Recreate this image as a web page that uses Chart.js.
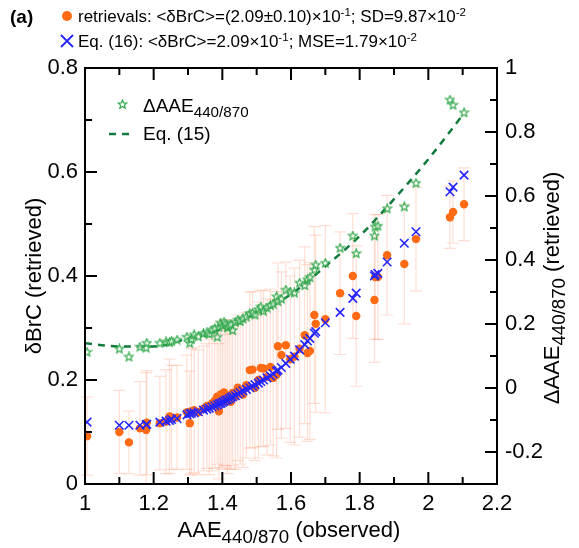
<!DOCTYPE html>
<html>
<head>
<meta charset="utf-8">
<script src="https://cdn.jsdelivr.net/npm/chart.js@4.4.1/dist/chart.umd.min.js"></script>
<style>
  html, body { margin: 0; padding: 0; background: #fff; }
</style>
</head>
<body>
<canvas id="chart" width="579" height="548"></canvas>
<script>
// --- DATA ---
const aaeObserved = [1.006, 1.100, 1.128, 1.160, 1.178, 1.180, 1.218, 1.236, 1.246, 1.252,
  1.268, 1.297, 1.305, 1.310, 1.318, 1.330, 1.345, 1.355, 1.362, 1.370,
  1.378, 1.385, 1.390, 1.395, 1.400, 1.405, 1.410, 1.415, 1.420, 1.425,
  1.430, 1.438, 1.445, 1.452, 1.460, 1.470, 1.480, 1.488, 1.495, 1.505,
  1.512, 1.520, 1.530, 1.540, 1.548, 1.558, 1.562, 1.572, 1.585, 1.598,
  1.610, 1.625, 1.640, 1.648, 1.655, 1.668, 1.672, 1.700, 1.743, 1.780,
  1.790, 1.843, 1.845, 1.853, 1.880, 1.930, 1.964, 2.063, 2.072, 2.104];

const brcRetrieved = [0.092, 0.100, 0.080, 0.107, 0.104, 0.118, 0.117, 0.120, 0.130, 0.128,
  0.128, 0.138, 0.117, 0.140, 0.142, 0.138, 0.145, 0.150, 0.148, 0.155,
  0.160, 0.168, 0.140, 0.172, 0.158, 0.176, 0.165, 0.160, 0.170, 0.158,
  0.175, 0.168, 0.185, 0.178, 0.172, 0.190, 0.219, 0.220, 0.185, 0.200,
  0.223, 0.222, 0.206, 0.225, 0.204, 0.210, 0.265, 0.248, 0.267, 0.240,
  0.245, 0.260, 0.286, 0.252, 0.256, 0.325, 0.308, 0.317, 0.367, 0.400,
  0.323, 0.354, 0.398, 0.398, 0.440, 0.423, 0.471, 0.513, 0.523, 0.538];

const brcErr = [0.075, 0.080, 0.060, 0.090, 0.110, 0.100, 0.090, 0.100, 0.110, 0.100,
  0.100, 0.110, 0.100, 0.120, 0.120, 0.120, 0.120, 0.120, 0.130, 0.130,
  0.130, 0.130, 0.130, 0.140, 0.130, 0.140, 0.130, 0.140, 0.140, 0.130,
  0.140, 0.140, 0.140, 0.140, 0.140, 0.140, 0.150, 0.150, 0.140, 0.150,
  0.150, 0.150, 0.150, 0.150, 0.150, 0.160, 0.160, 0.160, 0.160, 0.160,
  0.170, 0.170, 0.170, 0.170, 0.170, 0.170, 0.170, 0.180, 0.118, 0.120,
  0.135, 0.120, 0.120, 0.120, 0.115, 0.115, 0.100, 0.060, 0.060, 0.070];

const brcEq16 = [0.119, 0.113, 0.113, 0.113, 0.114, 0.115, 0.119, 0.121, 0.122, 0.124,
  0.126, 0.133, 0.135, 0.136, 0.137, 0.139, 0.142, 0.144, 0.146, 0.148,
  0.150, 0.152, 0.154, 0.155, 0.157, 0.159, 0.161, 0.162, 0.164, 0.166,
  0.168, 0.170, 0.173, 0.176, 0.179, 0.182, 0.185, 0.188, 0.191, 0.194,
  0.197, 0.200, 0.204, 0.208, 0.212, 0.217, 0.219, 0.224, 0.232, 0.240,
  0.246, 0.258, 0.268, 0.275, 0.280, 0.290, 0.293, 0.310, 0.330, 0.357,
  0.367, 0.400, 0.403, 0.405, 0.427, 0.463, 0.485, 0.562, 0.571, 0.594];

const deltaAAE = [0.112, 0.122, 0.097, 0.128, 0.125, 0.140, 0.140, 0.144, 0.142, 0.146,
  0.150, 0.159, 0.140, 0.152, 0.166, 0.160, 0.170, 0.172, 0.168, 0.181,
  0.185, 0.159, 0.190, 0.203, 0.195, 0.206, 0.200, 0.188, 0.192, 0.198,
  0.180, 0.205, 0.212, 0.208, 0.216, 0.222, 0.232, 0.234, 0.228, 0.245,
  0.253, 0.240, 0.250, 0.258, 0.262, 0.285, 0.270, 0.278, 0.306, 0.300,
  0.297, 0.328, 0.320, 0.338, 0.345, 0.369, 0.384, 0.390, 0.437, 0.475,
  0.420, 0.475, 0.503, 0.506, 0.560, 0.566, 0.640, 0.900, 0.884, 0.860];

const eq15X = [1.0, 1.1, 1.2, 1.3, 1.4, 1.5, 1.6, 1.7, 1.8, 1.9, 2.0, 2.1];
const eq15Y = [0.140, 0.130, 0.130, 0.155, 0.185, 0.233, 0.293, 0.380, 0.475, 0.590, 0.715, 0.853];

const xTicks = [1, 1.2, 1.4, 1.6, 1.8, 2, 2.2];
const yLeftTicks = [0, 0.2, 0.4, 0.6, 0.8];
const yRightTicks = [-0.2, 0, 0.2, 0.4, 0.6, 0.8, 1];

const legendRetrievals = [['retrievals: <δBrC>=(2.09±0.10)×10', ''], ['-1', 'sup'], ['; SD=9.87×10', ''], ['-2', 'sup']];
const legendEq16 = [['Eq. (16): <δBrC>=2.09×10', ''], ['-1', 'sup'], ['; MSE=1.79×10', ''], ['-2', 'sup']];

// --- COLOURS ---
const ORANGE = '#ff6a13';
const BLUE = '#2424ff';
const STAR_GREEN = '#2fa84a';
const LINE_GREEN = '#127a3c';
const FONT = '"Liberation Sans", Arial, sans-serif';

// open 5-point star used as the point style
function makeStar(size, color) {
  const c = document.createElement('canvas');
  c.width = size; c.height = size;
  const g = c.getContext('2d');
  const cx = size / 2, cy = size / 2, ro = size / 2 - 1, ri = ro * 0.45;
  g.beginPath();
  for (let i = 0; i < 10; i++) {
    const r = i % 2 === 0 ? ro : ri;
    const a = -Math.PI / 2 + i * Math.PI / 5;
    const px = cx + r * Math.cos(a), py = cy + r * Math.sin(a);
    if (i === 0) g.moveTo(px, py); else g.lineTo(px, py);
  }
  g.closePath();
  g.fillStyle = 'rgba(255,255,255,0.6)';
  g.fill();
  g.strokeStyle = color;
  g.lineWidth = 1.2;
  g.stroke();
  return c;
}
const starImg = makeStar(11, STAR_GREEN);

// text with sub/superscript runs: [text, ''|'sub'|'sup']
function drawRich(ctx, x, y, parts, size, align, small) {
  const k = small || 0.68;
  const fontFor = m => (m ? size * k : size) + 'px ' + FONT;
  let w = 0;
  parts.forEach(([t, m]) => { ctx.font = fontFor(m); w += ctx.measureText(t).width; });
  let cx = align === 'center' ? x - w / 2 : x;
  ctx.textAlign = 'left';
  ctx.textBaseline = 'alphabetic';
  parts.forEach(([t, m]) => {
    ctx.font = fontFor(m);
    let dy = 0;
    if (m === 'sub') dy = size * 0.28;
    if (m === 'sup') dy = -size * 0.38;
    ctx.fillText(t, cx, y + dy);
    cx += ctx.measureText(t).width;
  });
}

const errorBars = {
  id: 'errorBars',
  beforeDatasetsDraw(chart) {
    const ctx = chart.ctx, xs = chart.scales.x, ys = chart.scales.y;
    ctx.save();
    ctx.strokeStyle = 'rgba(255,140,100,0.28)';
    ctx.lineWidth = 1.2;
    aaeObserved.forEach((xv, i) => {
      const px = xs.getPixelForValue(xv);
      const top = ys.getPixelForValue(brcRetrieved[i] + brcErr[i]);
      const bot = ys.getPixelForValue(Math.max(0, brcRetrieved[i] - brcErr[i]));
      ctx.beginPath();
      ctx.moveTo(px, top); ctx.lineTo(px, bot);
      ctx.moveTo(px - 6, top); ctx.lineTo(px + 6, top);
      ctx.moveTo(px - 6, bot); ctx.lineTo(px + 6, bot);
      ctx.stroke();
    });
    ctx.restore();
  }
};

const frameAndText = {
  id: 'frameAndText',
  afterDraw(chart) {
    const ctx = chart.ctx, a = chart.chartArea;
    const xs = chart.scales.x, yl = chart.scales.y, yr = chart.scales.y2;
    ctx.save();
    ctx.strokeStyle = '#000';
    ctx.lineWidth = 2;
    ctx.strokeRect(a.left, a.top, a.right - a.left, a.bottom - a.top);

    // inward ticks
    ctx.beginPath();
    for (let v = 1; v <= 2.2001; v += 0.1) {
      const px = xs.getPixelForValue(v);
      const len = xTicks.some(t => Math.abs(t - v) < 1e-6) ? 12 : 7;
      ctx.moveTo(px, a.bottom); ctx.lineTo(px, a.bottom - len);
      ctx.moveTo(px, a.top); ctx.lineTo(px, a.top + len);
    }
    for (let v = 0; v <= 0.8001; v += 0.1) {
      const py = yl.getPixelForValue(v);
      const len = yLeftTicks.some(t => Math.abs(t - v) < 1e-6) ? 12 : 7;
      ctx.moveTo(a.left, py); ctx.lineTo(a.left + len, py);
    }
    for (let v = -0.3; v <= 1.0001; v += 0.1) {
      const py = yr.getPixelForValue(v);
      const len = yRightTicks.some(t => Math.abs(t - v) < 1e-6) ? 12 : 7;
      ctx.moveTo(a.right, py); ctx.lineTo(a.right - len, py);
    }
    ctx.stroke();

    // tick labels
    ctx.fillStyle = '#000';
    ctx.font = '22px ' + FONT;
    ctx.textBaseline = 'middle';
    ctx.textAlign = 'center';
    xTicks.forEach(v => ctx.fillText(String(v), xs.getPixelForValue(v), a.bottom + 20));
    ctx.textAlign = 'right';
    yLeftTicks.forEach(v => ctx.fillText(String(v), a.left - 7, yl.getPixelForValue(v)));
    ctx.textAlign = 'left';
    yRightTicks.forEach(v => ctx.fillText(String(v), a.right + 8, yr.getPixelForValue(v)));

    // axis titles
    drawRich(ctx, 289, 537, [['AAE', ''], ['440/870', 'sub'], [' (observed)', '']], 22, 'center', 0.85);
    ctx.save();
    ctx.translate(41, 276);
    ctx.rotate(-Math.PI / 2);
    drawRich(ctx, 0, 0, [['δBrC (retrieved)', '']], 22, 'center');
    ctx.restore();
    ctx.save();
    ctx.translate(559, 288);
    ctx.rotate(-Math.PI / 2);
    drawRich(ctx, 0, 0, [['ΔAAE', ''], ['440/870', 'sub'], [' (retrieved)', '']], 22, 'center', 0.85);
    ctx.restore();

    // panel letter and top legend
    ctx.font = 'bold 19px ' + FONT;
    ctx.textAlign = 'left';
    ctx.textBaseline = 'alphabetic';
    ctx.fillText('(a)', 10, 23);
    ctx.fillStyle = ORANGE;
    ctx.beginPath(); ctx.arc(67, 16, 5, 0, Math.PI * 2); ctx.fill();
    ctx.fillStyle = '#000';
    drawRich(ctx, 78, 22, legendRetrievals, 17);
    ctx.strokeStyle = BLUE; ctx.lineWidth = 1.8;
    ctx.beginPath();
    ctx.moveTo(61, 35); ctx.lineTo(73, 47); ctx.moveTo(73, 35); ctx.lineTo(61, 47);
    ctx.stroke();
    drawRich(ctx, 78, 47, legendEq16, 17);

    // inner legend
    ctx.drawImage(starImg, 117, 99);
    drawRich(ctx, 143, 112, [['ΔAAE', ''], ['440/870', 'sub']], 19, 'left', 0.8);
    ctx.strokeStyle = LINE_GREEN; ctx.lineWidth = 2.5;
    ctx.setLineDash([7, 6]);
    ctx.beginPath(); ctx.moveTo(109, 134); ctx.lineTo(131, 134); ctx.stroke();
    ctx.setLineDash([]);
    drawRich(ctx, 143, 140, [['Eq. (15)', '']], 19);
    ctx.restore();
  }
};

const pts = ys => aaeObserved.map((x, i) => ({ x: x, y: ys[i] }));

new Chart(document.getElementById('chart'), {
  type: 'scatter',
  data: {
    datasets: [
      { label: 'Eq. (16)', data: pts(brcEq16), yAxisID: 'y', order: 0,
        pointStyle: 'crossRot', pointRadius: 6, borderColor: BLUE, borderWidth: 1.6 },
      { label: 'ΔAAE', data: pts(deltaAAE), yAxisID: 'y2', order: 1,
        pointStyle: starImg, pointRadius: 5 },
      { label: 'Eq. (15)', data: eq15X.map((x, i) => ({ x: x, y: eq15Y[i] })), yAxisID: 'y2', order: 2,
        showLine: true, pointRadius: 0, borderColor: LINE_GREEN, borderWidth: 2.5,
        borderDash: [7, 6], cubicInterpolationMode: 'monotone' },
      { label: 'retrievals', data: pts(brcRetrieved), yAxisID: 'y', order: 3,
        pointStyle: 'circle', pointRadius: 4.2, backgroundColor: ORANGE, borderColor: ORANGE, borderWidth: 0 }
    ]
  },
  options: {
    responsive: false,
    animation: false,
    layout: { padding: { left: 85, right: 82, top: 68, bottom: 64 } },
    plugins: { legend: { display: false }, tooltip: { enabled: false } },
    scales: {
      x: { type: 'linear', min: 1, max: 2.2, display: false },
      y: { type: 'linear', min: 0, max: 0.8, display: false },
      y2: { type: 'linear', min: -0.3, max: 1, display: false }
    }
  },
  plugins: [errorBars, frameAndText]
});
</script>
</body>
</html>
